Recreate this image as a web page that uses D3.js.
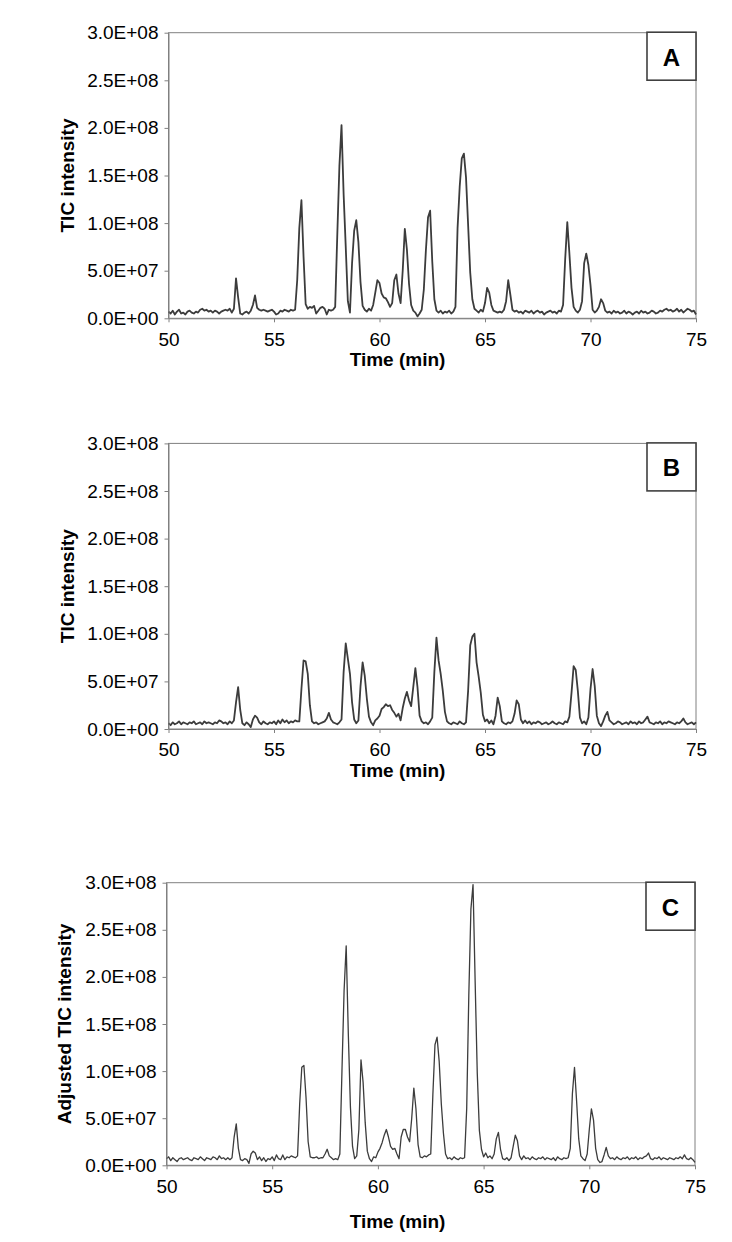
<!DOCTYPE html>
<html><head><meta charset="utf-8">
<script src="https://cdn.jsdelivr.net/npm/d3@7"></script>
<style>
body{margin:0;background:#fff}
svg{display:block}
text{font-family:"Liberation Sans",Arial,Helvetica,sans-serif}
</style>
</head><body>
<svg id="chart" width="732" height="1242"></svg>
<script>
// ---- data ----
const xTicks = [50, 55, 60, 65, 70, 75];
const xTickLabels = ["50", "55", "60", "65", "70", "75"];
const yTicks = [0, 5e7, 1e8, 1.5e8, 2e8, 2.5e8, 3e8];
const yTickLabels = ["0.0E+00", "5.0E+07", "1.0E+08", "1.5E+08", "2.0E+08", "2.5E+08", "3.0E+08"];
const panelLetters = ["A", "B", "C"];
const yTitles = ["TIC intensity", "TIC intensity", "Adjusted TIC intensity"];
const xTitle = "Time (min)";
// scan times (min): 50.0 .. 75.0, one scan every 0.1 min
const times = d3.range(251).map(i => +(50 + i * 0.1).toFixed(1));
// TIC intensities in millions (x 1E+06), one per scan time
const ticA = [
  7, 5, 8, 4, 7, 9, 5, 6, 4, 7,
  8, 6, 5, 7, 6, 9, 10, 8, 9, 7,
  8, 6, 8, 7, 5, 7, 8, 9, 8, 10,
  6, 10, 42, 22, 5, 4, 6, 7, 5, 8,
  14, 24, 11, 9, 8, 9, 8, 7, 8, 9,
  7, 4, 5, 8, 7, 9, 8, 7, 9, 8,
  9, 40, 95, 124, 65, 15, 10, 12, 11, 13,
  5, 8, 11, 12, 10, 4, 9, 8, 9, 12,
  88, 160, 203, 130, 75, 18, 6, 58, 92, 103,
  80, 38, 13, 9, 7, 10, 8, 14, 27, 40,
  37, 26, 22, 21, 17, 12, 16, 40, 46, 26,
  16, 50, 94, 72, 36, 14, 8, 6, 2, 5,
  9, 30, 72, 106, 113, 60, 20, 8, 6, 8,
  5, 7, 6, 8, 5, 7, 12, 95, 138, 168,
  173, 148, 98, 48, 20, 10, 8, 6, 9, 7,
  16, 32, 27, 14, 8, 7, 6, 7, 6, 9,
  18, 40, 25, 9, 7, 8, 6, 7, 5, 8,
  7, 6, 8, 5, 7, 8, 6, 7, 4, 6,
  7, 8, 6, 7, 5, 8, 7, 14, 62, 101,
  68, 32, 12, 8, 6, 9, 18, 58, 68, 56,
  35, 9, 6, 8, 12, 20, 16, 8, 6, 7,
  5, 8, 6, 7, 5, 6, 8, 5, 7, 6,
  4, 6, 7, 5, 8, 6, 7, 5, 6, 8,
  7, 5, 6, 8, 7, 9, 10, 8, 9, 7,
  8, 10, 7, 9, 6, 8, 10, 9, 7, 8,
  4
];
const ticB = [
  6, 4, 7, 5, 6, 8, 5, 7, 6, 5,
  7, 6, 8, 5, 6, 7, 5, 8, 6, 7,
  6, 5, 7, 6, 9, 8, 6, 7, 5, 8,
  6, 9, 28, 44, 20, 6, 4, 7, 5, 2,
  10, 14, 12, 7, 5, 8, 6, 5, 7, 6,
  8, 5, 9, 6, 10, 7, 9, 6, 8, 7,
  9, 8, 8, 42, 72, 71, 58, 25, 8, 6,
  7, 5, 6, 7, 8, 11, 17, 10, 7, 6,
  5, 7, 10, 60, 90, 74, 58, 28, 10, 6,
  9, 45, 70, 56, 32, 13, 7, 4, 9, 11,
  14, 21, 23, 26, 24, 25, 20, 17, 13, 16,
  9, 22, 32, 39, 30, 24, 44, 64, 44, 14,
  8, 6, 7, 5, 8, 12, 60, 96, 72, 58,
  40, 18, 8, 6, 5, 7, 6, 5, 8, 6,
  5, 7, 40, 88, 97, 100, 70, 55, 38, 15,
  8, 10, 6, 9, 5, 14, 33, 24, 8, 6,
  5, 7, 6, 8, 16, 30, 26, 10, 6, 9,
  6, 8, 5, 7, 6, 8, 7, 5, 6, 7,
  5, 6, 8, 6, 5, 7, 6, 5, 8, 7,
  13, 38, 66, 62, 40, 12, 6, 8, 5, 12,
  42, 63, 45, 14, 6, 3, 8, 14, 18, 9,
  7, 5, 6, 8, 7, 5, 6, 7, 5, 8,
  6, 7, 5, 8, 6, 7, 10, 13, 7, 6,
  5, 7, 6, 8, 5, 7, 6, 8, 7, 6,
  5, 7, 6, 8, 11, 7, 5, 6, 7, 5,
  7
];
const ticC = [
  7, 9, 5, 8, 6, 4, 7, 8, 6, 7,
  8, 6, 5, 8, 7, 6, 9, 7, 5, 8,
  7, 6, 9, 8, 6, 10, 7, 8, 6, 8,
  6, 8, 30, 44, 18, 6, 5, 7, 6, 2,
  12, 15, 13, 6, 9, 5, 8, 4, 7, 6,
  9, 5, 11, 7, 6, 11, 6, 9, 8, 10,
  9, 8, 10, 65, 104, 106, 72, 25, 9, 8,
  8, 9, 7, 8, 8, 12, 17, 10, 8, 6,
  7, 6, 12, 100, 185, 233, 140, 62, 20, 7,
  10, 38, 112, 88, 45, 15, 7, 4, 9, 8,
  14, 18, 24, 32, 38, 30, 20, 17, 18, 12,
  7, 30, 38, 38, 30, 25, 50, 82, 60, 22,
  9, 8, 10, 9, 11, 12, 75, 128, 136, 110,
  65, 34, 12, 7, 8, 6, 9, 7, 6, 8,
  7, 8, 60, 180, 272, 298, 195, 98, 37, 17,
  9, 13, 8, 10, 7, 12, 28, 35, 17, 7,
  6, 8, 5, 8, 20, 32, 26, 10, 6, 10,
  7, 8, 6, 9, 7, 6, 8, 7, 9, 6,
  8, 7, 6, 8, 5, 9, 7, 6, 8, 7,
  8, 18, 76, 104, 68, 28, 10, 7, 5, 12,
  38, 60, 48, 18, 6, 3, 4, 11, 19, 10,
  7, 8, 6, 9, 7, 6, 8, 7, 9, 6,
  8, 7, 9, 6, 8, 7, 9, 10, 13, 7,
  6, 8, 7, 9, 6, 8, 7, 6, 8, 7,
  6, 8, 7, 9, 7, 11, 7, 6, 8, 6,
  3
];
const UNIT = 1e6;

// ---- layout ----
const panels = [
  {data: ticA, left: 168.5, right: 696, top: 32.7, bottom: 318.3, sw: 1.8, yTitleX: 74, xTitleY: 366},
  {data: ticB, left: 168.5, right: 696, top: 443.4, bottom: 729, sw: 1.8, yTitleX: 74, xTitleY: 777},
  {data: ticC, left: 166.5, right: 695, top: 882.7, bottom: 1165.3, sw: 1.3, yTitleX: 71, xTitleY: 1228}
];

const svg = d3.select("#chart");
const AXIS_GREY = "#808080";
const FONT = '"Liberation Sans", Arial, sans-serif';

panels.forEach((p, k) => {
  const x = d3.scaleLinear().domain([50, 75]).range([p.left, p.right]);
  const y = d3.scaleLinear().domain([0, 3e8]).range([p.bottom, p.top]);
  const g = svg.append("g");

  // plot border
  g.append("rect")
    .attr("x", p.left).attr("y", p.top)
    .attr("width", p.right - p.left).attr("height", p.bottom - p.top)
    .attr("fill", "none").attr("stroke", AXIS_GREY).attr("stroke-width", 1);

  // trace
  const series = times.map((t, i) => ({t, v: p.data[i] * UNIT}));
  g.append("path")
    .datum(series)
    .attr("fill", "none")
    .attr("stroke", "#3c3c3c")
    .attr("stroke-width", p.sw)
    .attr("stroke-linejoin", "round")
    .attr("d", d3.line().x(d => x(d.t)).y(d => y(d.v)));

  // y axis
  const ya = g.append("g").attr("transform", `translate(${p.left},0)`)
    .call(d3.axisLeft(y).tickValues(yTicks)
      .tickFormat((d, i) => yTickLabels[i]).tickSize(4).tickSizeOuter(0).tickPadding(6));
  // x axis
  const xa = g.append("g").attr("transform", `translate(0,${p.bottom})`)
    .call(d3.axisBottom(x).tickValues(xTicks)
      .tickFormat((d, i) => xTickLabels[i]).tickSize(4).tickSizeOuter(0).tickPadding(10));
  [ya, xa].forEach(a => {
    a.select(".domain").attr("stroke", AXIS_GREY);
    a.selectAll(".tick line").attr("stroke", AXIS_GREY);
    a.selectAll(".tick text").attr("fill", "#000")
      .style("font-size", "19px")
      .style("font-family", FONT);
  });

  // axis titles
  g.append("text")
    .attr("transform", `translate(${p.yTitleX},${(p.top + p.bottom) / 2}) rotate(-90)`)
    .attr("text-anchor", "middle")
    .style("font-size", "19px").style("font-weight", "bold")
    .text(yTitles[k]);
  g.append("text")
    .attr("x", 397.5).attr("y", p.xTitleY)
    .attr("text-anchor", "middle")
    .style("font-size", "19px").style("font-weight", "bold")
    .text(xTitle);

  // panel letter box
  const bw = 49, bh = 48;
  g.append("rect")
    .attr("x", p.right - bw).attr("y", p.top - 0.5)
    .attr("width", bw).attr("height", bh)
    .attr("fill", "#fff").attr("stroke", "#404040").attr("stroke-width", 1.6);
  g.append("text")
    .attr("x", p.right - bw / 2).attr("y", p.top - 0.5 + bh / 2 + 1)
    .attr("text-anchor", "middle").attr("dominant-baseline", "central")
    .style("font-size", "24px").style("font-weight", "bold")
    .text(panelLetters[k]);
});
</script>
</body></html>
